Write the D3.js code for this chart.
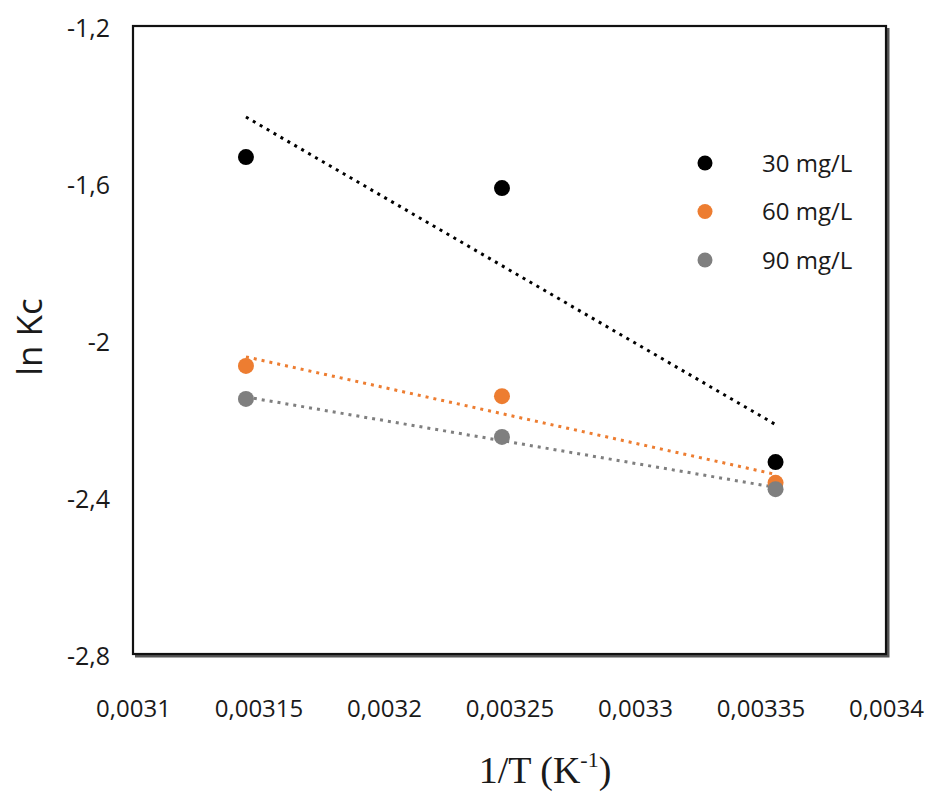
<!DOCTYPE html>
<html>
<head>
<meta charset="utf-8">
<script src="https://cdn.jsdelivr.net/npm/d3@7"></script>
<style>
  body { margin: 0; background: #fff; }
  svg text { font-family: "Open Sans", sans-serif; fill: #1a1a1a; }
</style>
</head>
<body>
<div id="container"></div>
<script>
// 1/T values (K^-1) and ln Kc for each initial concentration
const invT = [0.003145, 0.003247, 0.003356];
const lnKc30 = [-1.534, -1.613, -2.311];
const lnKc60 = [-2.066, -2.143, -2.364];
const lnKc90 = [-2.150, -2.247, -2.380];
const seriesNames = ['30 mg/L', '60 mg/L', '90 mg/L'];
const seriesColors = ['#000000', '#ED7D31', '#7F7F7F'];
const xTicks = [0.0031, 0.00315, 0.0032, 0.00325, 0.0033, 0.00335, 0.0034];
const yTicks = [-1.2, -1.6, -2, -2.4, -2.8];

const width = 930, height = 794;
const margin = { top: 26, right: 44, bottom: 140, left: 133 };
const innerW = width - margin.left - margin.right;
const innerH = height - margin.top - margin.bottom;

const loc = d3.formatLocale({ decimal: ',', thousands: '.', grouping: [3], currency: ['', ''], minus: '-' });
const fmt = loc.format('~g');

const x = d3.scaleLinear().domain([0.0031, 0.0034]).range([0, innerW]);
const y = d3.scaleLinear().domain([-2.8, -1.2]).range([innerH, 0]);

const svg = d3.select('#container').append('svg').attr('width', width).attr('height', height);
const g = svg.append('g').attr('transform', `translate(${margin.left},${margin.top})`);

// frame with a little shadow on right/bottom
g.append('path').attr('d', `M${innerW + 2},2 V${innerH + 2} H2`).attr('fill', 'none')
  .attr('stroke', '#555').attr('stroke-width', 3);
g.append('rect').attr('x', 0).attr('y', 0).attr('width', innerW).attr('height', innerH)
  .attr('fill', 'none').attr('stroke', '#111').attr('stroke-width', 2.2);

// axes (labels only)
const yAxis = g.append('g').call(d3.axisLeft(y).tickValues(yTicks).tickFormat(fmt).tickSize(0).tickPadding(23));
yAxis.select('.domain').remove();
yAxis.selectAll('text').attr('font-size', 25).attr('font-family', 'Open Sans').attr('fill', '#1a1a1a').attr('dy', '0.4em');

const xAxis = g.append('g').attr('transform', `translate(0,${innerH})`)
  .call(d3.axisBottom(x).tickValues(xTicks).tickFormat(fmt).tickSize(0).tickPadding(46));
xAxis.select('.domain').remove();
xAxis.selectAll('text').attr('font-size', 24).attr('font-family', 'Open Sans').attr('fill', '#1a1a1a');

// axis titles
svg.append('text').attr('transform', `translate(42,${margin.top + innerH / 2 - 3}) rotate(-90)`)
  .attr('text-anchor', 'middle').attr('font-size', 35).text('ln Kc');

const xt = svg.append('text').attr('x', 545).attr('y', 783)
  .attr('text-anchor', 'middle').attr('font-size', 38)
  .style('font-family', '"Liberation Serif", "Times New Roman", serif');
xt.append('tspan').text('1/T (K');
xt.append('tspan').attr('dy', -16).attr('font-size', 22).text('-1');
xt.append('tspan').attr('dy', 16).text(')');

// trend lines (least squares) then points
const allSeries = [lnKc30, lnKc60, lnKc90];
allSeries.forEach((vals, i) => {
  const pts = invT.map((t, k) => [t, vals[k]]);
  const mx = d3.mean(pts, d => d[0]), my = d3.mean(pts, d => d[1]);
  const slope = d3.sum(pts, d => (d[0] - mx) * (d[1] - my)) / d3.sum(pts, d => (d[0] - mx) ** 2);
  const x0 = d3.min(invT), x1 = d3.max(invT);
  g.append('line')
    .attr('x1', x(x0)).attr('y1', y(my + slope * (x0 - mx)))
    .attr('x2', x(x1)).attr('y2', y(my + slope * (x1 - mx)))
    .attr('stroke', seriesColors[i]).attr('stroke-width', 3).attr('stroke-dasharray', '3,5');
});
allSeries.forEach((vals, i) => {
  g.append('g').selectAll('circle').data(vals).join('circle')
    .attr('cx', (d, k) => x(invT[k])).attr('cy', d => y(d)).attr('r', 8)
    .attr('fill', seriesColors[i]);
});

// legend
const lg = svg.append('g').attr('transform', 'translate(705,163)');
seriesNames.forEach((name, i) => {
  const row = lg.append('g').attr('transform', `translate(0,${i * 48.5})`);
  row.append('circle').attr('r', 7.5).attr('fill', seriesColors[i]);
  row.append('text').attr('x', 57).attr('dy', '0.36em').attr('font-size', 24).text(name);
});
</script>
</body>
</html>
